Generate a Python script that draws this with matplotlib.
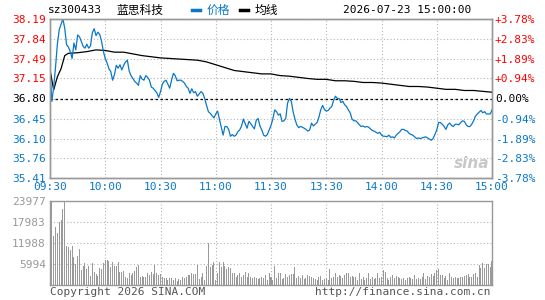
import matplotlib
matplotlib.use('Agg')
import matplotlib.pyplot as plt
from matplotlib.lines import Line2D

# minute index 0..240 (09:30-11:30, 13:00-15:00)
price = [
    37.30, 36.75, 37.00, 37.35, 37.75, 38.00, 38.10, 38.19, 38.03, 37.74,
    37.70, 37.62, 37.50, 37.77, 37.65, 37.91, 37.88, 37.80, 37.71, 37.68,
    37.75, 37.68, 37.72, 37.95, 38.02, 37.90, 37.96, 37.92, 37.80, 37.62,
    37.50, 37.42, 37.32, 37.27, 37.12, 37.22, 37.38, 37.33, 37.39, 37.30,
    37.38, 37.44, 37.47, 37.28, 37.20, 37.15, 37.10, 37.07, 37.03, 37.20,
    37.14, 37.12, 37.20, 37.17, 37.12, 37.00, 36.98, 36.94, 36.90, 36.82,
    36.92, 37.05, 37.10, 37.12, 37.05, 36.98, 37.12, 37.24, 37.20, 37.11,
    37.12, 37.12, 37.10, 37.07, 37.01, 36.98, 36.89, 36.97, 36.90, 36.92,
    36.84, 36.88, 36.92, 36.89, 36.80, 36.68, 36.57, 36.54, 36.50, 36.46,
    36.53, 36.58, 36.44, 36.30, 36.16, 36.31, 36.31, 36.26, 36.14, 36.17,
    36.14, 36.16, 36.22, 36.25, 36.32, 36.44, 36.36, 36.28, 36.40, 36.36,
    36.31, 36.27, 36.42, 36.45, 36.32, 36.25, 36.16, 36.14, 36.17, 36.25,
    36.33, 36.44, 36.60, 36.57, 36.51, 36.53, 36.40, 36.41, 36.45, 36.72,
    36.80, 36.75, 36.57, 36.44, 36.34, 36.29, 36.31, 36.30, 36.28, 36.26,
    36.23, 36.25, 36.37, 36.32, 36.35, 36.38, 36.47, 36.60, 36.68, 36.61,
    36.58, 36.59, 36.63, 36.66, 36.77, 36.84, 36.80, 36.80, 36.73, 36.75,
    36.69, 36.66, 36.60, 36.55, 36.44, 36.41, 36.41, 36.38, 36.34, 36.31,
    36.32, 36.30, 36.31, 36.30, 36.27, 36.24, 36.23, 36.21, 36.19, 36.21,
    36.16, 36.14, 36.14, 36.13, 36.16, 36.12, 36.13, 36.11, 36.16, 36.19,
    36.22, 36.26, 36.26, 36.24, 36.23, 36.19, 36.17, 36.16, 36.13, 36.10,
    36.11, 36.10, 36.11, 36.12, 36.13, 36.11, 36.09, 36.07, 36.10, 36.17,
    36.25, 36.38, 36.38, 36.35, 36.31, 36.26, 36.34, 36.37, 36.33, 36.31,
    36.35, 36.35, 36.34, 36.38, 36.41, 36.40, 36.34, 36.31, 36.31, 36.35,
    36.41, 36.49, 36.53, 36.56, 36.59, 36.55, 36.57, 36.53, 36.53, 36.53,
    36.60,
]

volume = [
    4376, 23977, 13890, 16460, 14840, 17980, 18550, 21690, 23977, 11035,
    10845, 10080, 11035, 7900, 5990, 8370, 10270, 4280, 5330, 6180,
    4570, 5330, 2570, 6180, 3710, 3140, 2470, 4850, 4570, 6280,
    7040, 7040, 6750, 5140, 6470, 5330, 5330, 6470, 3710, 3710,
    4090, 2380, 2000, 3330, 2950, 3330, 3900, 5140, 5800, 2280,
    2470, 2190, 2190, 3330, 2950, 3710, 3140, 5800, 3520, 2760,
    3140, 2380, 1900, 2090, 1430, 1900, 2090, 1430, 1900, 1140,
    1620, 1430, 2380, 1900, 2380, 2850, 2850, 3330, 3140, 3140,
    5710, 1620, 2380, 3330, 1430, 5420, 11890, 5040, 5710, 6660,
    1430, 3330, 6660, 5040, 6660, 5420, 4470, 5040, 4760, 3330,
    3520, 2380, 2850, 3330, 2380, 2850, 3810, 2380, 3330, 2380,
    1900, 2380, 2090, 1620, 2090, 2380, 1900, 2850, 1430, 3330,
    2380, 1430, 5420, 1900, 3520, 3330, 1710, 2090, 3040, 2380,
    2850, 3040, 3040, 5040, 2090, 2660, 1900, 2850, 1710, 1900,
    2850, 2570, 2380, 1900, 1710, 1430, 2380, 2660, 1430, 1710,
    1900, 1430, 4470, 2090, 2380, 3330, 2380, 2850, 2660, 1900,
    2850, 3330, 3520, 2190, 2570, 2380, 2190, 1430, 3520, 1710,
    2380, 1430, 2090, 3330, 1620, 2380, 1620, 1900, 3520, 2090,
    2380, 4280, 3810, 2090, 1430, 2380, 2850, 1900, 2570, 2190,
    2090, 1620, 1900, 1430, 1900, 2380, 1900, 1620, 2850, 1620,
    2090, 1620, 2380, 3330, 1620, 2570, 2380, 3040, 2570, 3520,
    4280, 4470, 2850, 2850, 2090, 2570, 1430, 3520, 2380, 2090,
    2380, 2090, 2090, 2380, 2190, 2570, 2850, 3040, 2380, 2380,
    3040, 3520, 2190, 5710, 4760, 6370, 4760, 5990, 5990, 5230,
    6850,
]

# average price line, read at sample minutes
avg_min = [0, 2, 4, 6, 8, 10, 15, 20, 25, 30, 35, 40, 45, 50, 55, 60, 70, 80, 85,
           90, 95, 100, 105, 110, 115, 120, 125, 130, 135, 140, 145, 150, 155, 160,
           165, 170, 175, 180, 185, 190, 195, 200, 205, 210, 215, 220, 225, 230,
           235, 240]
avg_val = [37.30, 36.95, 37.18, 37.32, 37.55, 37.59, 37.60, 37.62, 37.65, 37.64,
           37.61, 37.61, 37.58, 37.55, 37.53, 37.51, 37.49, 37.47, 37.44, 37.39,
           37.34, 37.29, 37.27, 37.25, 37.23, 37.23, 37.20, 37.19, 37.17, 37.15,
           37.135, 37.135, 37.11, 37.11, 37.10, 37.08, 37.08, 37.07, 37.05, 37.03,
           37.01, 37.01, 37.00, 36.98, 36.96, 36.96, 36.94, 36.94, 36.925, 36.91]

prev_close = 36.80
price_ticks = [35.41, 35.76, 36.10, 36.45, 36.80, 37.15, 37.49, 37.84, 38.19]
pct_labels = ['-3.78%', '-2.83%', '-1.89%', '-0.94%', '0.00%',
              '+0.94%', '+1.89%', '+2.83%', '+3.78%']
time_ticks = [0, 30, 60, 90, 120, 150, 180, 210, 240]
time_labels = ['09:30', '10:00', '10:30', '11:00', '11:30',
               '13:30', '14:00', '14:30', '15:00']
vol_ticks = [5994, 11988, 17983, 23977]

RED = '#ff0000'
BLUE = '#0a78c8'
FRAME = '#999999'
GRID = '#b4b4b4'
MONO = 'DejaVu Sans Mono'
CJK = ['Noto Sans CJK SC', 'DejaVu Sans']

W, H = 545, 300
fig = plt.figure(figsize=(W / 100, H / 100), dpi=100)
fig.patch.set_facecolor('white')


def box(left, top, right, bottom):
    return [left / W, 1 - bottom / H, (right - left) / W, (bottom - top) / H]


ax = fig.add_axes(box(50, 19, 492, 178))
axv = fig.add_axes(box(50, 201, 492, 285))

minutes = list(range(len(price)))

# price panel
ax.plot(minutes, price, color=BLUE, lw=0.9, zorder=4)
ax.plot(avg_min, avg_val, color='black', lw=0.9, zorder=3)
ax.axhline(prev_close, color='black', lw=0.9, ls=(0, (2, 2)), zorder=2)
ax.set_xlim(0, 240)
ax.set_ylim(price_ticks[0], price_ticks[-1])
ax.set_yticks(price_ticks)
ax.set_yticklabels([f'{v:.2f}' for v in price_ticks])
ax.set_xticks(time_ticks)
ax.set_xticklabels(time_labels)
ax.tick_params(length=0, labelsize=8, pad=3)
for lbl in ax.get_xticklabels():
    lbl.set_fontfamily(MONO)
    lbl.set_color(BLUE)
for v, lbl in zip(price_ticks, ax.get_yticklabels()):
    lbl.set_fontfamily(MONO)
    lbl.set_color(RED if v > prev_close else ('black' if v == prev_close else BLUE))
ax.grid(True, color=GRID, lw=0.8, ls=(0, (1, 2)))

ax2 = ax.twinx()
ax2.set_ylim(price_ticks[0], price_ticks[-1])
ax2.set_yticks(price_ticks)
ax2.set_yticklabels(pct_labels)
ax2.tick_params(length=0, labelsize=8, pad=2)
for v, lbl in zip(price_ticks, ax2.get_yticklabels()):
    lbl.set_fontfamily(MONO)
    lbl.set_color(RED if v > prev_close else ('black' if v == prev_close else BLUE))

for a in (ax, ax2, axv):
    for s in a.spines.values():
        s.set_color(FRAME)
        s.set_linewidth(1.0)

# volume panel
axv.bar(minutes, volume, width=0.55, color='#999999', zorder=3)
axv.set_xlim(0, 240)
axv.set_ylim(0, vol_ticks[-1])
axv.set_xticks(time_ticks)
axv.set_xticklabels([])
axv.set_yticks(vol_ticks)
axv.set_yticklabels([str(v) for v in vol_ticks])
axv.tick_params(length=0, labelsize=8, pad=3, labelcolor='#999999')
for lbl in axv.get_yticklabels():
    lbl.set_fontfamily(MONO)
axv.grid(True, color=GRID, lw=0.8, ls=(0, (1, 2)))

# header
ty = 1 - 10 / H
fig.text(48 / W, ty, 'sz300433', family=MONO, fontsize=8, va='center')
fig.text(116 / W, ty, '蓝思科技', family=CJK, fontsize=8.5, va='center')
fig.add_artist(Line2D([192 / W, 200 / W], [ty, ty], color=BLUE, lw=2.5))
fig.text(207 / W, ty, '价格', family=CJK, fontsize=8.5, va='center', color=BLUE)
fig.add_artist(Line2D([240 / W, 248 / W], [ty, ty], color='black', lw=2.5))
fig.text(255 / W, ty, '均线', family=CJK, fontsize=8.5, va='center')
fig.text(471 / W, ty, '2026-07-23 15:00:00', family=MONO, fontsize=8,
         va='center', ha='right')

# footer
fy = 1 - 292 / H
fig.text(50 / W, fy, 'Copyright 2026 SINA.COM', family=MONO, fontsize=8,
         va='center', color='#555555')
fig.text(491 / W, fy, 'http://finance.sina.com.cn', family=MONO, fontsize=8,
         va='center', ha='right', color='#555555')

# watermark
fig.text(472 / W, 1 - 163 / H, 'sina', fontsize=11, fontweight='bold',
         style='italic', color='#c8c8c8', ha='center', va='center')

fig.savefig('out.png', dpi=100)
